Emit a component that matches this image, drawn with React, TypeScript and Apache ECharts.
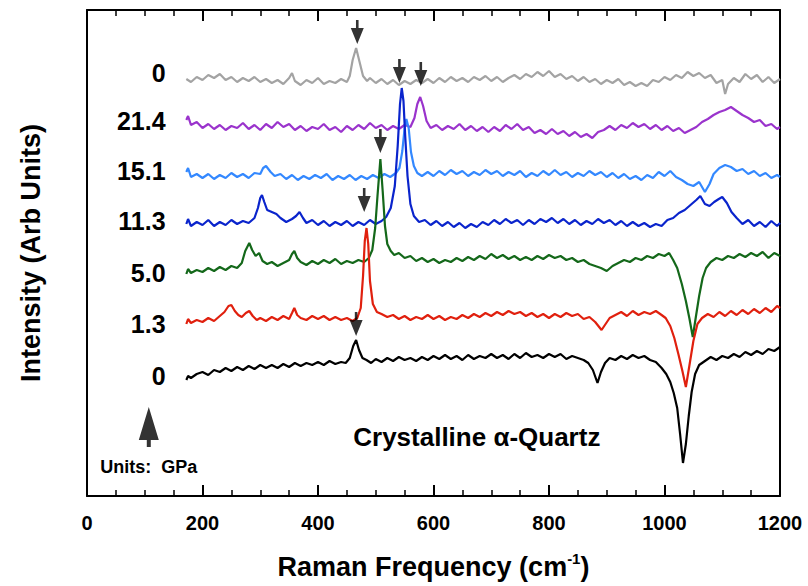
import { useEffect, useRef } from "react";
import * as echarts from "echarts";

const FONT = '"Liberation Sans", Arial, Helvetica, sans-serif';

// x axis ticks (cm^-1)
const xMin = 0;
const xMax = 1200;
const xStep = 200;
// y axis range (arb. units)
const yMin = 0;
const yMax = 486;

// Spectra: [Raman frequency (cm^-1), stacked intensity (arb. units)]
const gray0: number[][] = [
  [172, 417], [180, 414], [190, 419], [200, 416], [210, 421], [220, 418], [230, 422], [240, 416], [250, 419], [260, 414],
  [270, 418], [280, 415], [290, 419], [300, 414], [310, 417], [320, 413], [330, 416], [340, 412], [350, 418], [355, 423],
  [360, 415], [370, 411], [380, 416], [390, 413], [400, 418], [410, 412], [420, 415], [430, 413], [440, 417], [450, 414],
  [455, 420], [460, 436], [466, 448], [472, 434], [478, 420], [485, 415], [490, 418], [500, 413], [510, 417], [520, 412],
  [530, 416], [540, 411], [550, 415], [560, 412], [570, 416], [580, 413], [590, 417], [600, 413], [610, 418], [620, 414],
  [630, 419], [640, 415], [650, 418], [660, 414], [670, 419], [680, 416], [690, 420], [700, 415], [710, 419], [720, 414],
  [730, 418], [740, 421], [750, 417], [760, 422], [770, 419], [780, 424], [790, 420], [800, 425], [810, 419], [820, 422],
  [830, 417], [840, 420], [850, 415], [860, 419], [870, 414], [880, 417], [890, 412], [900, 416], [910, 413], [920, 417],
  [930, 411], [940, 414], [950, 410], [960, 413], [970, 410], [980, 416], [990, 414], [1000, 419], [1010, 416], [1020, 421],
  [1030, 418], [1040, 424], [1050, 420], [1060, 423], [1070, 418], [1080, 421], [1090, 413], [1100, 416], [1105, 402], [1110, 412],
  [1120, 418], [1130, 414], [1140, 422], [1150, 417], [1160, 421], [1170, 414], [1180, 419], [1190, 413], [1200, 417],
];

const purple214: number[][] = [
  [172, 376], [175, 380], [180, 371], [190, 374], [200, 368], [210, 372], [220, 367], [230, 371], [240, 366], [250, 370],
  [260, 368], [270, 373], [280, 367], [290, 371], [300, 366], [310, 372], [320, 368], [330, 374], [340, 369], [350, 372],
  [360, 366], [370, 370], [380, 365], [390, 369], [400, 367], [410, 372], [420, 366], [430, 369], [440, 364], [450, 370],
  [460, 366], [470, 371], [480, 367], [490, 373], [500, 368], [510, 371], [520, 366], [530, 370], [540, 367], [550, 371],
  [560, 369], [567, 378], [572, 392], [577, 399], [582, 390], [588, 375], [595, 368], [605, 371], [615, 366], [625, 370],
  [635, 367], [645, 372], [655, 366], [665, 370], [675, 365], [685, 369], [695, 364], [705, 369], [715, 365], [725, 371],
  [735, 367], [745, 372], [755, 366], [765, 369], [775, 363], [785, 366], [795, 362], [805, 367], [815, 362], [825, 365],
  [835, 360], [845, 364], [855, 359], [865, 362], [875, 358], [885, 364], [895, 366], [905, 370], [915, 366], [925, 371],
  [935, 368], [945, 373], [955, 369], [965, 372], [975, 367], [985, 371], [995, 366], [1005, 370], [1015, 365], [1025, 368],
  [1035, 363], [1045, 366], [1055, 369], [1065, 374], [1075, 377], [1085, 381], [1095, 384], [1105, 386], [1115, 389], [1125, 385],
  [1135, 381], [1145, 378], [1155, 374], [1165, 376], [1175, 370], [1185, 372], [1195, 367], [1200, 369],
];

const lightBlue151: number[][] = [
  [172, 324], [175, 328], [180, 319], [190, 322], [200, 318], [210, 322], [220, 317], [230, 321], [240, 318], [250, 323],
  [260, 319], [270, 322], [280, 318], [290, 323], [300, 322], [305, 328], [310, 330], [318, 324], [325, 320], [335, 322],
  [345, 317], [355, 321], [365, 316], [375, 320], [385, 317], [395, 321], [405, 318], [415, 322], [425, 316], [435, 320],
  [445, 317], [455, 321], [465, 316], [475, 320], [485, 317], [495, 321], [505, 318], [515, 322], [525, 319], [535, 323],
  [541, 328], [546, 345], [550, 368], [553, 377], [557, 368], [561, 344], [566, 330], [572, 323], [580, 320], [590, 324],
  [600, 320], [610, 325], [620, 321], [630, 326], [640, 322], [650, 325], [660, 320], [670, 324], [680, 321], [690, 326],
  [700, 322], [710, 325], [720, 320], [730, 324], [740, 321], [750, 325], [760, 319], [770, 323], [780, 320], [790, 325],
  [800, 321], [810, 326], [820, 321], [830, 324], [840, 319], [850, 323], [860, 320], [870, 325], [880, 321], [890, 324],
  [900, 319], [910, 323], [920, 318], [930, 322], [940, 317], [950, 320], [960, 316], [970, 321], [980, 318], [990, 324],
  [1000, 320], [1010, 325], [1020, 319], [1030, 316], [1040, 312], [1050, 310], [1060, 314], [1070, 304], [1078, 312], [1085, 322],
  [1095, 328], [1105, 331], [1115, 329], [1125, 325], [1135, 327], [1145, 322], [1155, 325], [1165, 320], [1175, 323], [1185, 318],
  [1195, 321], [1200, 319],
];

const darkBlue113: number[][] = [
  [172, 272], [175, 277], [180, 270], [190, 274], [200, 271], [210, 276], [220, 270], [230, 274], [240, 271], [250, 276],
  [260, 272], [270, 275], [280, 273], [290, 278], [296, 288], [300, 298], [303, 301], [307, 294], [312, 286], [320, 284],
  [328, 282], [335, 278], [345, 274], [355, 277], [362, 280], [368, 284], [374, 278], [380, 273], [390, 276], [400, 271],
  [410, 275], [420, 270], [430, 274], [440, 271], [450, 275], [460, 270], [470, 274], [480, 271], [490, 276], [500, 272],
  [510, 275], [518, 279], [526, 288], [533, 310], [538, 350], [542, 392], [545, 408], [548, 395], [551, 360], [555, 320],
  [560, 292], [566, 280], [575, 274], [585, 276], [595, 271], [605, 275], [615, 270], [625, 274], [635, 269], [645, 273],
  [655, 268], [665, 272], [675, 269], [685, 274], [695, 271], [705, 276], [715, 272], [725, 277], [735, 273], [745, 276],
  [755, 271], [765, 276], [775, 272], [785, 277], [795, 274], [805, 278], [815, 273], [825, 277], [835, 272], [845, 276],
  [855, 271], [865, 275], [875, 272], [885, 277], [895, 273], [905, 276], [915, 271], [925, 275], [935, 270], [945, 274],
  [955, 270], [965, 273], [975, 269], [985, 272], [995, 270], [1005, 276], [1015, 278], [1025, 283], [1035, 286], [1045, 291],
  [1055, 296], [1062, 300], [1070, 292], [1078, 290], [1086, 294], [1094, 297], [1100, 299], [1108, 293], [1116, 284], [1125, 278],
  [1135, 272], [1145, 276], [1155, 270], [1165, 274], [1175, 269], [1185, 275], [1195, 270], [1200, 273],
];

const green50: number[][] = [
  [172, 222], [175, 227], [180, 223], [190, 226], [200, 224], [210, 228], [220, 225], [230, 229], [240, 226], [250, 230],
  [260, 228], [268, 233], [274, 245], [281, 253], [286, 246], [292, 240], [298, 243], [304, 235], [312, 232], [320, 234],
  [330, 230], [340, 233], [350, 236], [355, 242], [359, 245], [364, 238], [370, 234], [380, 231], [390, 235], [400, 232],
  [410, 236], [420, 233], [430, 237], [440, 232], [450, 235], [460, 233], [470, 236], [480, 234], [488, 238], [494, 246],
  [499, 268], [503, 300], [508, 337], [512, 305], [516, 270], [520, 252], [526, 245], [532, 241], [540, 243], [550, 238],
  [560, 240], [570, 235], [580, 238], [590, 234], [600, 237], [610, 233], [620, 236], [630, 234], [640, 238], [650, 235],
  [660, 239], [670, 236], [680, 240], [690, 237], [700, 242], [710, 238], [720, 241], [730, 237], [740, 240], [750, 236],
  [760, 239], [770, 236], [780, 240], [790, 237], [800, 241], [810, 238], [820, 240], [830, 236], [840, 238], [850, 234],
  [860, 236], [870, 232], [880, 230], [890, 228], [900, 225], [910, 230], [920, 233], [930, 236], [940, 234], [950, 238],
  [960, 236], [970, 240], [980, 238], [990, 242], [1000, 240], [1008, 243], [1015, 236], [1022, 228], [1030, 212], [1037, 195],
  [1043, 178], [1049, 159], [1054, 178], [1060, 200], [1066, 218], [1072, 228], [1080, 234], [1090, 238], [1100, 236], [1110, 240],
  [1120, 238], [1130, 242], [1140, 239], [1150, 243], [1160, 240], [1170, 244], [1180, 238], [1190, 243], [1200, 240],
];

const red13: number[][] = [
  [172, 172], [175, 177], [180, 173], [190, 176], [200, 174], [210, 178], [220, 175], [230, 180], [238, 184], [245, 190],
  [250, 191], [256, 185], [262, 181], [268, 179], [275, 183], [281, 185], [287, 180], [294, 176], [300, 178], [310, 175],
  [320, 179], [330, 176], [340, 180], [350, 177], [355, 183], [359, 188], [364, 181], [370, 178], [380, 176], [390, 180],
  [400, 177], [410, 180], [420, 176], [430, 179], [440, 176], [450, 178], [460, 175], [468, 178], [474, 188], [478, 220],
  [481, 255], [484, 268], [487, 252], [490, 215], [495, 192], [502, 184], [510, 182], [520, 179], [530, 181], [540, 177],
  [550, 180], [560, 176], [570, 179], [580, 177], [590, 181], [600, 177], [610, 180], [620, 176], [630, 179], [640, 177],
  [650, 181], [660, 178], [670, 182], [680, 179], [690, 183], [700, 180], [710, 184], [720, 181], [730, 185], [740, 182],
  [750, 184], [760, 180], [770, 183], [780, 179], [790, 182], [800, 178], [810, 182], [820, 179], [830, 183], [840, 180],
  [850, 182], [860, 177], [870, 179], [880, 174], [891, 166], [898, 172], [905, 178], [915, 181], [925, 184], [935, 180],
  [945, 185], [955, 181], [965, 184], [975, 182], [985, 185], [995, 181], [1002, 178], [1010, 170], [1017, 158], [1024, 142],
  [1031, 125], [1037, 109], [1043, 130], [1050, 155], [1057, 172], [1065, 178], [1075, 182], [1085, 179], [1095, 184], [1105, 180],
  [1115, 185], [1125, 181], [1135, 186], [1145, 182], [1155, 187], [1165, 183], [1175, 188], [1185, 184], [1195, 190], [1200, 188],
];

const black0: number[][] = [
  [172, 116], [175, 120], [180, 118], [190, 122], [200, 124], [210, 121], [220, 126], [230, 124], [240, 128], [250, 125],
  [260, 129], [270, 126], [280, 130], [290, 127], [300, 131], [310, 128], [320, 131], [330, 128], [340, 132], [350, 129],
  [360, 133], [370, 130], [380, 133], [390, 131], [400, 134], [410, 131], [420, 135], [430, 132], [440, 134], [448, 133],
  [455, 138], [461, 150], [466, 156], [471, 146], [477, 138], [484, 136], [492, 133], [500, 137], [510, 134], [520, 138],
  [530, 135], [540, 139], [550, 136], [560, 138], [570, 135], [580, 139], [590, 136], [600, 140], [610, 137], [620, 141],
  [630, 137], [640, 140], [650, 136], [660, 141], [670, 137], [680, 140], [690, 138], [700, 142], [710, 138], [720, 141],
  [730, 137], [740, 142], [750, 138], [760, 143], [770, 139], [780, 141], [790, 138], [800, 142], [810, 139], [820, 142],
  [830, 137], [840, 140], [850, 138], [860, 136], [868, 133], [876, 126], [884, 113], [890, 124], [897, 133], [905, 138],
  [915, 136], [925, 140], [935, 137], [945, 141], [955, 138], [965, 140], [975, 136], [985, 134], [995, 128], [1003, 122],
  [1010, 114], [1016, 103], [1022, 88], [1027, 62], [1032, 33], [1037, 52], [1042, 80], [1047, 104], [1053, 122], [1060, 131],
  [1070, 135], [1080, 139], [1090, 136], [1100, 140], [1110, 138], [1120, 142], [1130, 139], [1140, 144], [1150, 141], [1160, 145],
  [1170, 142], [1180, 147], [1190, 145], [1200, 149],
];

const seriesNames = ["0 GPa (top)", "21.4 GPa", "15.1 GPa", "11.3 GPa", "5.0 GPa", "1.3 GPa", "0 GPa"];
const seriesData = [gray0, purple214, lightBlue151, darkBlue113, green50, red13, black0];
const seriesColors = ["#a3a3a3", "#9a33cc", "#3388ff", "#0a24cc", "#14681a", "#e0200e", "#000000"];

// Pressure labels (GPa) at the left of each trace, anchored in data space [cm^-1, intensity]
const pressureLabels = ["0", "21.4", "15.1", "11.3", "5.0", "1.3", "0"];
const pressureLabelAnchorX = 137;
const pressureLabelAnchorY = [423, 375, 325, 275, 223, 172, 120];

// Peak markers (arrow tips) [cm^-1, intensity]
const peakArrows: number[][] = [
  [468, 452], [541, 413], [578, 410], [508, 343], [480, 284], [466, 160],
];

// Annotation anchors [cm^-1, intensity]
const titleAnchor = [675, 59];
const unitsAnchor = [22, 29];
const unitsArrowAnchor = [107, 69];

const ARROW_DOWN = "path://M5.2,0 L7.8,0 L7.8,8 L13,8 L6.5,24 L0,8 L5.2,8 Z";
const ARROW_UP = "path://M10,0 L20,33 L12,33 L12,40 L8,40 L8,33 L0,33 Z";

function makeXAxis(position: "bottom" | "top") {
  return {
    type: "value",
    position,
    min: xMin,
    max: xMax,
    interval: xStep,
    axisLine: { show: true, onZero: false, lineStyle: { color: "#000", width: 2 } },
    axisTick: { show: true, inside: true, length: 11, lineStyle: { color: "#000", width: 2 } },
    minorTick: { show: true, splitNumber: 4, length: 6, lineStyle: { color: "#000", width: 1.5 } },
    splitLine: { show: false },
  };
}

function makeYAxis(position: "left" | "right") {
  return {
    type: "value",
    position,
    min: yMin,
    max: yMax,
    axisLine: { show: true, onZero: false, lineStyle: { color: "#000", width: 2 } },
    axisTick: { show: false },
    axisLabel: { show: false },
    splitLine: { show: false },
  };
}

function textSeries(name: string, items: any[], position: string, fontSize: number) {
  return {
    name,
    type: "scatter",
    silent: true,
    symbolSize: 1,
    itemStyle: { color: "rgba(0,0,0,0)" },
    emphasis: { disabled: true },
    label: {
      show: true,
      position,
      distance: 0,
      formatter: "{b}",
      fontSize,
      fontWeight: "bold",
      fontFamily: FONT,
      color: "#000",
      opacity: 1,
    },
    data: items,
    z: 6,
  };
}

export default function App() {
  const ref = useRef<HTMLDivElement>(null);

  useEffect(() => {
    document.body.style.margin = "0";
    const chart = echarts.init(ref.current!, null, { renderer: "svg" });

    const series: any[] = seriesData.map((d, i) => ({
      name: seriesNames[i],
      type: "line",
      data: d,
      showSymbol: false,
      symbol: "none",
      lineStyle: { color: seriesColors[i], width: 2.2 },
      itemStyle: { color: seriesColors[i] },
    }));

    // peak arrows
    series.push({
      name: "peak arrows",
      type: "scatter",
      silent: true,
      symbol: ARROW_DOWN,
      symbolSize: [13, 24],
      symbolOffset: [0, -12],
      itemStyle: { color: "#000" },
      emphasis: { disabled: true },
      data: peakArrows,
      z: 5,
    });

    // "units" arrow
    series.push({
      name: "units arrow",
      type: "scatter",
      silent: true,
      symbol: ARROW_UP,
      symbolSize: [20, 40],
      itemStyle: { color: "#000" },
      emphasis: { disabled: true },
      data: [unitsArrowAnchor],
      z: 5,
    });

    series.push(
      textSeries(
        "pressure labels",
        pressureLabels.map((t, i) => ({ value: [pressureLabelAnchorX, pressureLabelAnchorY[i]], name: t })),
        "left",
        25
      )
    );
    series.push(textSeries("title", [{ value: titleAnchor, name: "Crystalline α-Quartz" }], "inside", 26));
    series.push(textSeries("units", [{ value: unitsAnchor, name: "Units:  GPa" }], "right", 18));

    const bottomAxis: any = makeXAxis("bottom");
    bottomAxis.axisLabel = {
      show: true,
      margin: 17,
      fontSize: 20,
      fontWeight: "bold",
      fontFamily: FONT,
      color: "#000",
      formatter: (v: number) => String(v),
    };
    bottomAxis.name = "{t|Raman Frequency (cm}{s|-1}{t|)}";
    bottomAxis.nameLocation = "middle";
    bottomAxis.nameGap = 55;
    bottomAxis.nameTextStyle = {
      rich: {
        t: { fontSize: 27, fontWeight: "bold", fontFamily: FONT, color: "#000", lineHeight: 32 },
        s: { fontSize: 15, fontWeight: "bold", fontFamily: FONT, color: "#000", lineHeight: 15, verticalAlign: "top" },
      },
    };
    const topAxis: any = makeXAxis("top");
    topAxis.axisLabel = { show: false };

    const leftAxis: any = makeYAxis("left");
    leftAxis.name = "Intensity (Arb Units)";
    leftAxis.nameLocation = "middle";
    leftAxis.nameRotate = 90;
    leftAxis.nameGap = 43;
    leftAxis.nameTextStyle = { fontSize: 27, fontWeight: "bold", fontFamily: FONT, color: "#000" };
    const rightAxis: any = makeYAxis("right");

    chart.setOption({
      animation: false,
      grid: { left: 87, top: 10, width: 693, height: 486 },
      xAxis: [bottomAxis, topAxis],
      yAxis: [leftAxis, rightAxis],
      series,
    });

    return () => chart.dispose();
  }, []);

  return <div ref={ref} style={{ width: 808, height: 586 }} />;
}
